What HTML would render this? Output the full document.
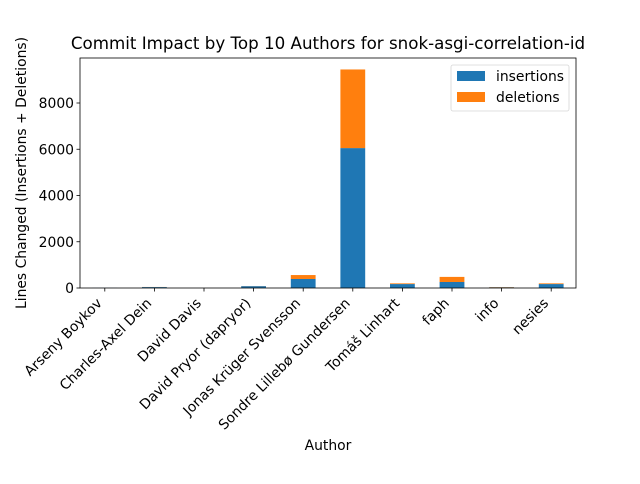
<!DOCTYPE html>
<html><head><meta charset="utf-8"><style>
body{margin:0;background:#fff;font-family:"DejaVu Sans","Liberation Sans",sans-serif;}
</style></head><body>
<svg width="640" height="480" xmlns="http://www.w3.org/2000/svg" font-family="DejaVu Sans, Liberation Sans, sans-serif">
<g id="plot"></g>
</svg>
<script>
const categories=["Arseny Boykov","Charles-Axel Dein","David Davis","David Pryor (dapryor)","Jonas Krüger Svensson","Sondre Lillebø Gundersen","Tomáš Linhart","faph","info","nesies"];
const insertions=[5,40,0,80,390,6050,170,260,30,170];
const deletions=[0,5,0,5,170,3400,30,220,10,30];
const yTicks=[0,2000,4000,6000,8000];
const L=80,R=576,T=58,B=288,yMax=9946;
const svg=document.getElementById('plot');
const NS="http://www.w3.org/2000/svg";
function x(i){return L+(i+0.5)*(R-L)/categories.length;}
function y(v){return B-v/yMax*(B-T);}
function el(t,a,txt){const e=document.createElementNS(NS,t);for(const k in a)e.setAttribute(k,a[k]);if(txt!=null)e.textContent=txt;svg.appendChild(e);return e;}
const bw=(R-L)/categories.length*0.5;
categories.forEach((c,i)=>{
  const b=el('rect',{x:x(i)-bw/2,y:y(insertions[i]),width:bw,height:B-y(insertions[i]),fill:'#1f77b4'});
  
  
  const d=el('rect',{x:x(i)-bw/2,y:y(insertions[i]+deletions[i]),width:bw,height:y(insertions[i])-y(insertions[i]+deletions[i]),fill:'#ff7f0e'});
  
  
  el('line',{x1:x(i),x2:x(i),y1:B,y2:B+3.5,stroke:'#000','stroke-width':0.8});
  const tx=x(i)-2,ty=B+16;
  const t=el('text',{x:tx,y:ty,'font-size':13.9,'text-anchor':'end',transform:`rotate(-45 ${tx} ${ty})`},c);
  
  
});
yTicks.forEach(v=>{
  el('line',{x1:L-3.5,x2:L,y1:y(v),y2:y(v),stroke:'#000','stroke-width':0.8});
  const t=el('text',{x:L-6,y:y(v)+5,'font-size':13.9,'text-anchor':'end'},v);
  
  
});
const f=el('rect',{x:L,y:T,width:R-L,height:B-T,fill:'none',stroke:'#000','stroke-width':0.8});


const ti=el('text',{x:(L+R)/2,y:T-9,'font-size':16.7,'text-anchor':'middle'},'Commit Impact by Top 10 Authors for snok-asgi-correlation-id');


const xl=el('text',{x:(L+R)/2,y:450,'font-size':13.9,'text-anchor':'middle'},'Author');


const yl=el('text',{x:26,y:(T+B)/2,'font-size':13.9,'text-anchor':'middle',transform:`rotate(-90 26 ${(T+B)/2})`},'Lines Changed (Insertions + Deletions)');


const lg=el('rect',{x:451,y:65,width:118,height:46,rx:2,fill:'#fff',stroke:'#ccc','stroke-width':0.8,opacity:0.8});


[['insertions','#1f77b4',76],['deletions','#ff7f0e',97]].forEach(([n,c,yy])=>{
  el('rect',{x:457,y:yy-5,width:28,height:10,fill:c});
  const t=el('text',{x:496,y:yy+5,'font-size':13.9},n);
  
  
});
</script>
</body></html>
